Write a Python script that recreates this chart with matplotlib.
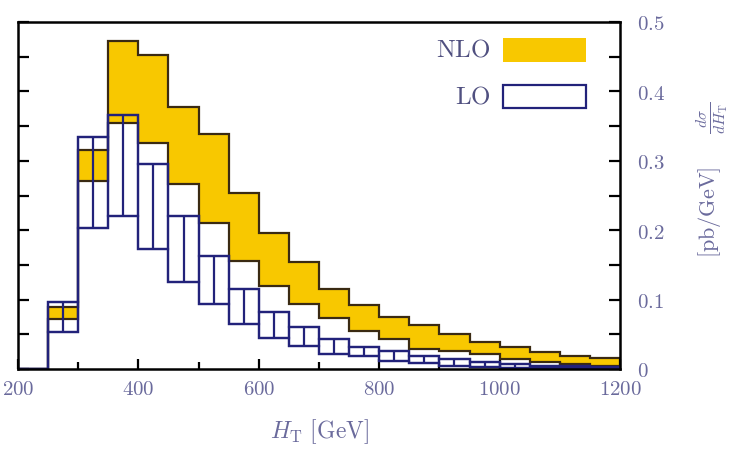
import numpy as np
import matplotlib
matplotlib.use("Agg")
import matplotlib.pyplot as plt
from matplotlib.patches import Rectangle
from matplotlib.ticker import MultipleLocator, FuncFormatter

plt.rcParams['mathtext.fontset'] = 'cm'
plt.rcParams['font.family'] = 'serif'
plt.rcParams['font.serif'] = ['DejaVu Serif']

# H_T bins, 50 GeV wide
edges = np.arange(200, 1201, 50)

# NLO scale band (lower / upper edge per bin)
nlo_lo = [0, 0.072, 0.271, 0.354, 0.325, 0.267, 0.211, 0.156, 0.120, 0.094,
          0.073, 0.055, 0.043, 0.029, 0.026, 0.021, 0.015, 0.010, 0.007, 0.005]
nlo_hi = [0, 0.089, 0.315, 0.472, 0.453, 0.378, 0.339, 0.254, 0.196, 0.154,
          0.115, 0.092, 0.075, 0.063, 0.050, 0.039, 0.031, 0.024, 0.019, 0.016]

# LO scale band
lo_lo = [0, 0.054, 0.203, 0.221, 0.173, 0.126, 0.094, 0.065, 0.045, 0.033,
         0.022, 0.019, 0.012, 0.008, 0.005, 0.003, 0.002, 0.001, 0.001, 0.0005]
lo_hi = [0, 0.097, 0.335, 0.366, 0.296, 0.221, 0.163, 0.115, 0.082, 0.061,
         0.043, 0.032, 0.026, 0.019, 0.014, 0.010, 0.007, 0.005, 0.004, 0.003]

gold = '#f8c800'
dark = '#3a2a12'
navy = '#22227a'
txt = '#6a6a9c'

fig = plt.figure(figsize=(7.31, 4.64), dpi=100)
ax = fig.add_axes([18 / 731, 94 / 464, 602 / 731, 347 / 464])

# NLO band: filled steps with dark outline
ax.stairs(nlo_hi, edges, baseline=nlo_lo, fill=True, color=gold, lw=0, zorder=1)
ax.stairs(nlo_hi, edges, baseline=None, color=dark, lw=1.6, zorder=2)
ax.stairs(nlo_lo, edges, baseline=None, color=dark, lw=1.6, zorder=2)

# LO band: stepped outline plus one open box per bin, split at the bin centre
centres = 0.5 * (edges[:-1] + edges[1:])
lo_lo_a = np.array(lo_lo)
lo_hi_a = np.array(lo_hi)
ax.stairs(lo_hi, edges, baseline=None, color=navy, lw=1.6, zorder=3)
ax.stairs(lo_lo, edges, baseline=None, color=navy, lw=1.6, zorder=3)
ax.bar(centres, lo_hi_a - lo_lo_a, bottom=lo_lo_a, width=np.diff(edges),
       fill=False, edgecolor=navy, lw=1.6, zorder=3)
ax.vlines(centres[1:], lo_lo_a[1:], lo_hi_a[1:], color=navy, lw=1.6, zorder=3)

ax.set_xlim(200, 1200)
ax.set_ylim(0, 0.5)

for s in ax.spines.values():
    s.set_linewidth(1.8)
    s.set_color('black')
    s.set_zorder(5)

ax.xaxis.set_major_locator(MultipleLocator(200))
ax.xaxis.set_minor_locator(MultipleLocator(100))
ax.yaxis.set_major_locator(MultipleLocator(0.1))
ax.yaxis.set_minor_locator(MultipleLocator(0.05))

ax.tick_params(axis='both', which='both', direction='in', width=1.6, colors='black',
               labelcolor=txt, labelsize=15)
ax.tick_params(axis='x', which='major', length=7, top=False, pad=7)
ax.tick_params(axis='x', which='minor', length=5, top=False)
ax.tick_params(axis='y', which='both', length=8, left=True, right=True,
               labelleft=False, labelright=True, pad=12)

ax.xaxis.set_major_formatter(FuncFormatter(lambda v, p: r'$%d$' % v))
ax.yaxis.set_major_formatter(FuncFormatter(
    lambda v, p: r'$0$' if abs(v) < 1e-9 else r'$%.1f$' % v))

ax.set_xlabel(r'$H_{\mathrm{T}}\ [\mathrm{GeV}]$', fontsize=17, color=txt, labelpad=13)

# axis title on the right, read bottom to top
fig.text(712 / 731, 1 - 180 / 464,
         r'$[\mathrm{pb/GeV}]\quad\ \ \frac{d\sigma}{dH_{\mathrm{T}}}$',
         rotation=90, ha='center', va='center', fontsize=16, color=txt)

# legend drawn by hand in the upper right corner
ax.add_patch(Rectangle((0.806, 0.885), 0.137, 0.069, transform=ax.transAxes,
                       facecolor=gold, edgecolor='none', zorder=4))
ax.add_patch(Rectangle((0.806, 0.752), 0.137, 0.066, transform=ax.transAxes,
                       facecolor='white', edgecolor=navy, lw=1.6, zorder=4))
ax.text(0.785, 0.922, r'$\mathrm{NLO}$', transform=ax.transAxes, ha='right',
        va='center', fontsize=18, color='#505080')
ax.text(0.785, 0.787, r'$\mathrm{LO}$', transform=ax.transAxes, ha='right',
        va='center', fontsize=18, color='#505080')

fig.savefig('out.png', dpi=100)
